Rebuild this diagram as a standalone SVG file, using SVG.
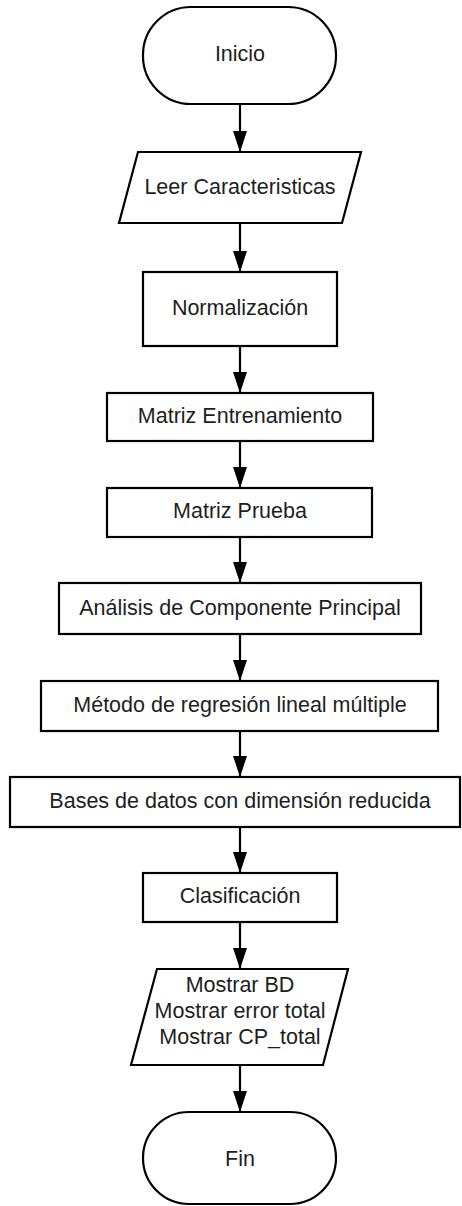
<svg xmlns="http://www.w3.org/2000/svg" width="462" height="1206" viewBox="0 0 462 1206">
<defs>
<style>
.n{fill:#fff;stroke:#000;stroke-width:2.2}
.t{font-family:"Liberation Sans",Arial,sans-serif;font-size:21.5px;fill:#1e1e1e;text-anchor:middle}
.c{stroke:#000;stroke-width:2.2;fill:none}
</style>
<marker id="ah" markerUnits="userSpaceOnUse" markerWidth="21" markerHeight="14" refX="21" refY="7" orient="auto" viewBox="0 0 21 14">
<path d="M0,0 L21,7 L0,14 Z" fill="#000"/>
</marker>
</defs>
<rect width="462" height="1206" fill="#fff"/>
<g id="connectors">
<line class="c" x1="240" y1="104" x2="240" y2="152" marker-end="url(#ah)"/>
<line class="c" x1="240" y1="223" x2="240" y2="272" marker-end="url(#ah)"/>
<line class="c" x1="240" y1="346" x2="240" y2="393" marker-end="url(#ah)"/>
<line class="c" x1="240" y1="441" x2="240" y2="488" marker-end="url(#ah)"/>
<line class="c" x1="240" y1="537" x2="240" y2="583" marker-end="url(#ah)"/>
<line class="c" x1="240" y1="634" x2="240" y2="681" marker-end="url(#ah)"/>
<line class="c" x1="240" y1="731" x2="240" y2="777" marker-end="url(#ah)"/>
<line class="c" x1="240" y1="827" x2="240" y2="873" marker-end="url(#ah)"/>
<line class="c" x1="240" y1="922" x2="240" y2="969" marker-end="url(#ah)"/>
<line class="c" x1="240" y1="1065" x2="240" y2="1112" marker-end="url(#ah)"/>
</g>
<g id="inicio">
<rect class="n" x="143" y="7" width="193" height="97" rx="48" ry="48"/>
<text class="t" x="240" y="61">Inicio</text>
</g>
<g id="leer">
<polygon class="n" points="138,152 361,152 342,223 119,223"/>
<text class="t" x="240" y="194">Leer Caracteristicas</text>
</g>
<g id="normalizacion">
<rect class="n" x="143" y="272" width="194" height="74"/>
<text class="t" x="240" y="315">Normalización</text>
</g>
<g id="entrenamiento">
<rect class="n" x="107" y="393" width="266" height="48"/>
<text class="t" x="240" y="423">Matriz Entrenamiento</text>
</g>
<g id="prueba">
<rect class="n" x="107" y="488" width="265" height="49"/>
<text class="t" x="240" y="518">Matriz Prueba</text>
</g>
<g id="analisis">
<rect class="n" x="59" y="583" width="362" height="51"/>
<text class="t" x="240" y="615">Análisis de Componente Principal</text>
</g>
<g id="metodo">
<rect class="n" x="41" y="681" width="397" height="50"/>
<text class="t" x="240" y="712">Método de regresión lineal múltiple</text>
</g>
<g id="bases">
<rect class="n" x="10" y="777" width="450" height="50"/>
<text class="t" x="240" y="808">Bases de datos con dimensión reducida</text>
</g>
<g id="clasificacion">
<rect class="n" x="143" y="873" width="194" height="49"/>
<text class="t" x="240" y="903">Clasificación</text>
</g>
<g id="mostrar">
<polygon class="n" points="157,969 348,969 323,1065 131,1065"/>
<text class="t" x="240" y="992">Mostrar BD</text>
<text class="t" x="240" y="1018">Mostrar error total</text>
<text class="t" x="240" y="1044">Mostrar CP_total</text>
</g>
<g id="fin">
<rect class="n" x="143" y="1112" width="193" height="92" rx="46" ry="46"/>
<text class="t" x="240" y="1166">Fin</text>
</g>
</svg>
